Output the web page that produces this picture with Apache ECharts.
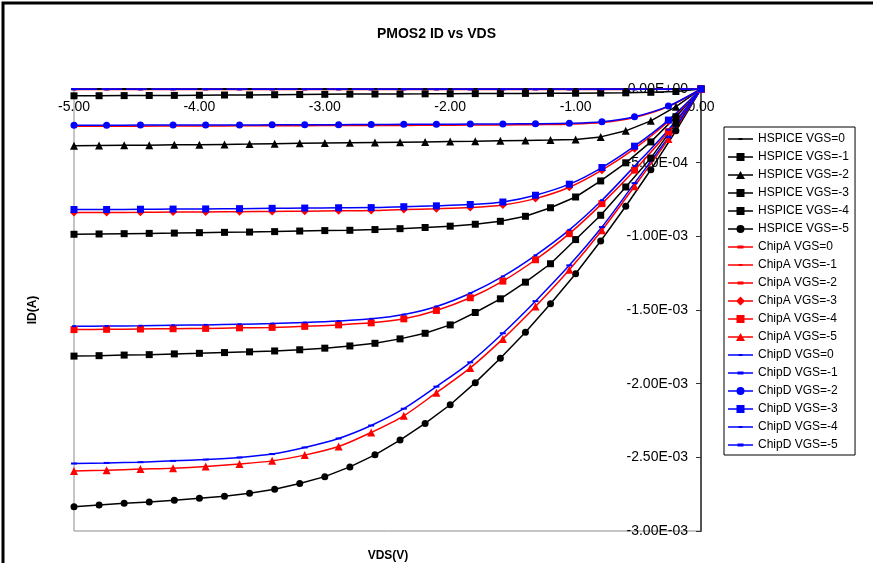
<!DOCTYPE html>
<html>
<head>
<meta charset="utf-8">
<script src="https://cdn.jsdelivr.net/npm/echarts@6/dist/echarts.min.js"></script>
<style>
  html, body { margin: 0; padding: 0; background: #fff; }
  #chart { width: 873px; height: 563px; }
</style>
</head>
<body>
<div id="chart"></div>
<script>
// VDS sweep points (V)
var vdsHspice = [-5.0, -4.8, -4.6, -4.4, -4.2, -4.0, -3.8, -3.6, -3.4, -3.2, -3.0, -2.8, -2.6,
  -2.4, -2.2, -2.0, -1.8, -1.6, -1.4, -1.2, -1.0, -0.8, -0.6, -0.4, -0.2, 0.0]
var vdsChip = [-5.00, -4.74, -4.47, -4.21, -3.95, -3.68, -3.42, -3.16, -2.89, -2.63,
  -2.37, -2.11, -1.84, -1.58, -1.32, -1.05, -0.79, -0.53, -0.26, 0.00]

// ID (A), HSPICE simulation
var hspice0 = [0, 0, 0, 0, 0, 0, 0, 0, 0, 0, 0, 0, 0, 0, 0, 0, 0, 0, 0, 0, 0, 0, 0, 0, 0, 0]
var hspice1 = [-4.63e-5, -4.56e-5, -4.49e-5, -4.42e-5, -4.35e-5, -4.22e-5, -4.08e-5, -4.01e-5, -3.88e-5,
  -3.74e-5, -3.61e-5, -3.47e-5, -3.40e-5, -3.33e-5, -3.27e-5, -3.20e-5, -3.13e-5, -3.06e-5, -2.99e-5,
  -2.93e-5, -2.86e-5, -2.72e-5, -2.59e-5, -2.24e-5, -1.70e-5, 0]
var hspice2 = [-3.86e-4, -3.84e-4, -3.82e-4, -3.81e-4, -3.79e-4, -3.78e-4, -3.76e-4, -3.74e-4, -3.71e-4,
  -3.69e-4, -3.67e-4, -3.65e-4, -3.63e-4, -3.61e-4, -3.59e-4, -3.57e-4, -3.55e-4, -3.52e-4, -3.49e-4,
  -3.47e-4, -3.42e-4, -3.25e-4, -2.84e-4, -2.16e-4, -1.20e-4, 0]
var hspice3 = [-9.86e-4, -9.84e-4, -9.82e-4, -9.80e-4, -9.78e-4, -9.75e-4, -9.73e-4, -9.71e-4, -9.68e-4,
  -9.64e-4, -9.61e-4, -9.59e-4, -9.54e-4, -9.48e-4, -9.40e-4, -9.31e-4, -9.18e-4, -8.98e-4, -8.64e-4,
  -8.06e-4, -7.33e-4, -6.24e-4, -5.01e-4, -3.59e-4, -1.88e-4, 0]
var hspice4 = [-1.813e-3, -1.810e-3, -1.806e-3, -1.803e-3, -1.798e-3, -1.794e-3, -1.789e-3, -1.784e-3,
  -1.778e-3, -1.770e-3, -1.759e-3, -1.744e-3, -1.726e-3, -1.696e-3, -1.658e-3, -1.601e-3, -1.517e-3,
  -1.424e-3, -1.311e-3, -1.186e-3, -1.022e-3, -0.857e-3, -0.665e-3, -0.469e-3, -0.233e-3, 0]
var hspice5 = [-2.835e-3, -2.823e-3, -2.812e-3, -2.803e-3, -2.791e-3, -2.778e-3, -2.764e-3, -2.744e-3,
  -2.716e-3, -2.678e-3, -2.631e-3, -2.565e-3, -2.483e-3, -2.383e-3, -2.270e-3, -2.143e-3, -1.993e-3,
  -1.828e-3, -1.651e-3, -1.458e-3, -1.254e-3, -1.032e-3, -0.796e-3, -0.548e-3, -0.284e-3, 0]

// ID (A), ChipA measurement
var chipA0 = [0, 0, 0, 0, 0, 0, 0, 0, 0, 0, 0, 0, 0, 0, 0, 0, 0, 0, 0, 0]
var chipA1 = [-3e-6, -3e-6, -3e-6, -3e-6, -3e-6, -3e-6, -3e-6, -3e-6, -3e-6, -3e-6,
  -3e-6, -3e-6, -3e-6, -3e-6, -3e-6, -3e-6, -3e-6, -2e-6, -1e-6, 0]
var chipA2 = [-2.53e-4, -2.52e-4, -2.52e-4, -2.51e-4, -2.51e-4, -2.50e-4, -2.50e-4, -2.49e-4, -2.48e-4,
  -2.48e-4, -2.47e-4, -2.46e-4, -2.45e-4, -2.44e-4, -2.42e-4, -2.39e-4, -2.28e-4, -1.93e-4, -1.19e-4, 0]
var chipA3 = [-8.39e-4, -8.38e-4, -8.37e-4, -8.35e-4, -8.34e-4, -8.33e-4, -8.31e-4, -8.29e-4, -8.27e-4,
  -8.25e-4, -8.18e-4, -8.13e-4, -8.05e-4, -7.87e-4, -7.44e-4, -6.67e-4, -5.51e-4, -4.05e-4, -2.21e-4, 0]
var chipA4 = [-1.633e-3, -1.631e-3, -1.629e-3, -1.627e-3, -1.625e-3, -1.621e-3, -1.618e-3, -1.611e-3,
  -1.601e-3, -1.587e-3, -1.560e-3, -1.503e-3, -1.417e-3, -1.304e-3, -1.159e-3, -0.982e-3, -0.778e-3,
  -0.551e-3, -0.290e-3, 0]
var chipA5 = [-2.592e-3, -2.587e-3, -2.580e-3, -2.574e-3, -2.563e-3, -2.546e-3, -2.524e-3, -2.485e-3,
  -2.427e-3, -2.331e-3, -2.218e-3, -2.061e-3, -1.893e-3, -1.696e-3, -1.476e-3, -1.227e-3, -0.959e-3,
  -0.660e-3, -0.340e-3, 0]

// ID (A), ChipD measurement
var chipD0 = [0, 0, 0, 0, 0, 0, 0, 0, 0, 0, 0, 0, 0, 0, 0, 0, 0, 0, 0, 0]
var chipD1 = [-2e-6, -2e-6, -2e-6, -2e-6, -2e-6, -2e-6, -2e-6, -2e-6, -2e-6, -2e-6,
  -2e-6, -2e-6, -2e-6, -2e-6, -2e-6, -2e-6, -2e-6, -2e-6, -1e-6, 0]
var chipD2 = [-2.46e-4, -2.46e-4, -2.45e-4, -2.44e-4, -2.44e-4, -2.44e-4, -2.43e-4, -2.42e-4, -2.42e-4,
  -2.41e-4, -2.40e-4, -2.39e-4, -2.38e-4, -2.37e-4, -2.36e-4, -2.33e-4, -2.22e-4, -1.88e-4, -1.16e-4, 0]
var chipD3 = [-8.18e-4, -8.18e-4, -8.16e-4, -8.15e-4, -8.14e-4, -8.12e-4, -8.10e-4, -8.08e-4, -8.06e-4,
  -8.05e-4, -7.99e-4, -7.93e-4, -7.84e-4, -7.67e-4, -7.21e-4, -6.46e-4, -5.33e-4, -3.88e-4, -2.11e-4, 0]
var chipD4 = [-1.610e-3, -1.609e-3, -1.607e-3, -1.604e-3, -1.601e-3, -1.597e-3, -1.592e-3, -1.585e-3,
  -1.575e-3, -1.560e-3, -1.531e-3, -1.476e-3, -1.386e-3, -1.272e-3, -1.129e-3, -0.956e-3, -0.755e-3,
  -0.524e-3, -0.276e-3, 0]
var chipD5 = [-2.542e-3, -2.538e-3, -2.533e-3, -2.524e-3, -2.515e-3, -2.501e-3, -2.478e-3, -2.433e-3,
  -2.372e-3, -2.284e-3, -2.170e-3, -2.020e-3, -1.855e-3, -1.658e-3, -1.440e-3, -1.197e-3, -0.937e-3,
  -0.639e-3, -0.327e-3, 0]

var FONT = '"Liberation Sans", Arial, sans-serif'

// marker looks, chart symbol + legend icon (25 x 10 box)
var LINE = 'M0,4.25H25V5.75H0Z'
var marks = {
  dash: { symbol: 'rect', size: [6, 2], icon: 'M9.5,3.5H15.5V6.5H9.5Z' },
  smalldash: { symbol: 'rect', size: [4, 2], icon: 'M10.5,4H14.5V6H10.5Z' },
  square: { symbol: 'rect', size: 7, icon: 'M8.5,1H16.5V9H8.5Z' },
  triangle: { symbol: 'triangle', size: 8, icon: 'M12.5,1L17,9H8Z' },
  circle: { symbol: 'circle', size: 7, icon: 'M8.5,5A4,4,0,1,1,16.5,5A4,4,0,1,1,8.5,5Z' },
  diamond: { symbol: 'diamond', size: 8, icon: 'M12.5,0.5L17,5L12.5,9.5L8,5Z' }
}

var seriesDefs = [
  ['HSPICE VGS=0', vdsHspice, hspice0, '#000000', 'smalldash', false],
  ['HSPICE VGS=-1', vdsHspice, hspice1, '#000000', 'square', false],
  ['HSPICE VGS=-2', vdsHspice, hspice2, '#000000', 'triangle', false],
  ['HSPICE VGS=-3', vdsHspice, hspice3, '#000000', 'square', false],
  ['HSPICE VGS=-4', vdsHspice, hspice4, '#000000', 'square', false],
  ['HSPICE VGS=-5', vdsHspice, hspice5, '#000000', 'circle', false],
  ['ChipA VGS=0', vdsChip, chipA0, '#ff0000', 'dash', true],
  ['ChipA VGS=-1', vdsChip, chipA1, '#ff0000', 'smalldash', true],
  ['ChipA VGS=-2', vdsChip, chipA2, '#ff0000', 'dash', true],
  ['ChipA VGS=-3', vdsChip, chipA3, '#ff0000', 'diamond', true],
  ['ChipA VGS=-4', vdsChip, chipA4, '#ff0000', 'square', true],
  ['ChipA VGS=-5', vdsChip, chipA5, '#ff0000', 'triangle', true],
  ['ChipD VGS=0', vdsChip, chipD0, '#0000ff', 'smalldash', true],
  ['ChipD VGS=-1', vdsChip, chipD1, '#0000ff', 'dash', true],
  ['ChipD VGS=-2', vdsChip, chipD2, '#0000ff', 'circle', true],
  ['ChipD VGS=-3', vdsChip, chipD3, '#0000ff', 'square', true],
  ['ChipD VGS=-4', vdsChip, chipD4, '#0000ff', 'smalldash', true],
  ['ChipD VGS=-5', vdsChip, chipD5, '#0000ff', 'dash', true]
]

var series = []
var legendData = []
seriesDefs.forEach(function (d) {
  var m = marks[d[4]]
  series.push({
    name: d[0],
    type: 'line',
    data: d[1].map(function (x, i) { return [x, d[2][i]] }),
    symbol: m.symbol,
    symbolSize: m.size,
    smooth: d[5] ? 0.3 : false,
    color: d[3],
    lineStyle: { width: 1.5, color: d[3] },
    itemStyle: { color: d[3] },
    emphasis: { disabled: true }
  })
  legendData.push({ name: d[0], icon: 'path://' + LINE + m.icon })
})

function sciLabel(v) {
  return v.toExponential(2).replace(/e([+-])(\d)$/, 'E$10$2').replace(/e([+-])(\d\d)$/, 'E$1$2')
}

var chart = echarts.init(document.getElementById('chart'))
var option = {
  backgroundColor: '#ffffff',
  animation: false,
  textStyle: { fontFamily: FONT },
  title: {
    text: 'PMOS2 ID vs VDS',
    left: 'center',
    top: 22,
    textStyle: { fontFamily: FONT, fontSize: 14, fontWeight: 'bold', color: '#000' }
  },
  grid: {
    left: 74, top: 89, right: 172, bottom: 32,
    show: true, borderColor: '#8c8c8c', borderWidth: 1, backgroundColor: '#ffffff'
  },
  legend: {
    orient: 'vertical',
    left: 724,
    top: 127,
    itemWidth: 25,
    itemHeight: 14,
    itemGap: 4,
    padding: [5, 6, 3, 4],
    borderColor: '#000',
    borderWidth: 1,
    selectedMode: false,
    data: legendData,
    textStyle: { fontFamily: FONT, fontSize: 12, color: '#000', lineHeight: 14 }
  },
  xAxis: {
    type: 'value',
    position: 'top',
    min: -5,
    max: 0,
    interval: 1,
    axisLine: { show: true, onZero: false, lineStyle: { color: '#555', width: 1.5 } },
    axisTick: { show: false },
    splitLine: { show: false },
    axisLabel: {
      inside: true, margin: 11, fontFamily: FONT, fontSize: 14, color: '#000',
      formatter: function (v) { return v.toFixed(2) }
    }
  },
  yAxis: {
    type: 'value',
    position: 'right',
    min: -0.003,
    max: 0,
    interval: 0.0005,
    axisLine: { show: true, onZero: false, lineStyle: { color: '#555', width: 2 } },
    axisTick: { show: true, inside: true, length: 5, lineStyle: { color: '#333' } },
    splitLine: { show: false },
    axisLabel: {
      inside: true, margin: 13, fontFamily: FONT, fontSize: 14, color: '#000',
      formatter: sciLabel
    }
  },
  graphic: [
    {
      type: 'rect', silent: true, z: 100,
      shape: { x: 3, y: 3, width: 900, height: 600 },
      style: { fill: 'none', stroke: '#000', lineWidth: 3 }
    },
    {
      type: 'text', silent: true,
      x: 388, y: 556,
      style: { text: 'VDS(V)', fill: '#000', font: 'bold 12px ' + FONT, textAlign: 'center', textVerticalAlign: 'middle' }
    },
    {
      type: 'text', silent: true, rotation: Math.PI / 2,
      x: 33, y: 310,
      style: { text: 'ID(A)', fill: '#000', font: 'bold 12px ' + FONT, textAlign: 'center', textVerticalAlign: 'middle' }
    }
  ],
  series: series
}
chart.setOption(option)
</script>
</body>
</html>
